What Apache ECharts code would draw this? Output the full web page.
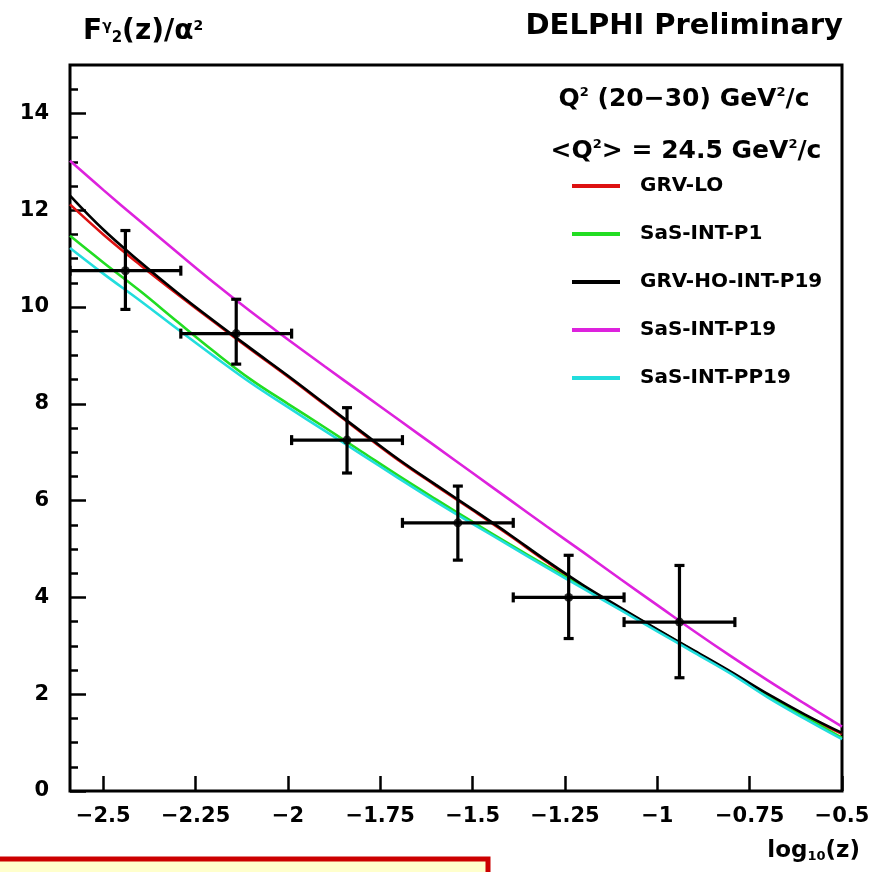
<!DOCTYPE html>
<html>
<head>
<meta charset="utf-8">
<script src="https://cdn.jsdelivr.net/npm/echarts@6/dist/echarts.min.js"></script>
<style>
html,body{margin:0;padding:0;background:#fff;}
#c{width:888px;height:872px;}
</style>
</head>
<body>
<div id="c"></div>
<script>
// ---- data ----
const xTickLabels = [-2.5, -2.25, -2, -1.75, -1.5, -1.25, -1, -0.75, -0.5];
const yTickLabels = [0, 2, 4, 6, 8, 10, 12, 14];
const curveX = [-2.59, -2.5, -2.4, -2.3, -2.2, -2.1, -2.0, -1.9, -1.8, -1.7, -1.6, -1.5, -1.4, -1.3, -1.2, -1.1, -1.0, -0.9, -0.8, -0.7, -0.6, -0.5];
const grvLO   = [12.12, 11.50, 10.87, 10.27, 9.69, 9.12, 8.56, 7.98, 7.40, 6.83, 6.31, 5.80, 5.28, 4.74, 4.23, 3.77, 3.32, 2.88, 2.44, 1.98, 1.56, 1.18];
const sasP1   = [11.47, 10.92, 10.33, 9.70, 9.08, 8.50, 8.00, 7.51, 7.01, 6.51, 6.03, 5.56, 5.10, 4.65, 4.21, 3.77, 3.33, 2.89, 2.44, 1.97, 1.53, 1.10];
const grvHO   = [12.30, 11.60, 10.93, 10.30, 9.71, 9.14, 8.58, 8.00, 7.42, 6.85, 6.33, 5.82, 5.30, 4.76, 4.25, 3.79, 3.34, 2.90, 2.46, 2.00, 1.58, 1.20];
const sasP19  = [13.02, 12.42, 11.77, 11.13, 10.50, 9.90, 9.33, 8.77, 8.22, 7.67, 7.12, 6.57, 6.02, 5.47, 4.93, 4.38, 3.84, 3.30, 2.78, 2.28, 1.80, 1.33];
const sasPP19 = [11.22, 10.69, 10.13, 9.55, 8.98, 8.43, 7.93, 7.44, 6.95, 6.46, 5.98, 5.52, 5.07, 4.62, 4.18, 3.74, 3.30, 2.86, 2.42, 1.93, 1.49, 1.07];
const pointX  = [-2.44, -2.14, -1.84, -1.54, -1.24, -0.94];
const pointY  = [10.75, 9.45, 7.25, 5.54, 4.00, 3.49];
const xErrLo  = [-2.59, -2.29, -1.99, -1.69, -1.39, -1.09];
const xErrHi  = [-2.29, -1.99, -1.69, -1.39, -1.09, -0.79];
const yErrLo  = [9.95, 8.82, 6.57, 4.77, 3.15, 2.34];
const yErrHi  = [11.58, 10.16, 7.92, 6.30, 4.87, 4.66];
const seriesNames = ['GRV-LO', 'SaS-INT-P1', 'GRV-HO-INT-P19', 'SaS-INT-P19', 'SaS-INT-PP19'];

// ---- build ----
const FONT = '"DejaVu Sans", Verdana, sans-serif';
const zip = ys => curveX.map((x, i) => [x, ys[i]]);
const minorX = []; for (let v = -2.55; v > -0.52; v += 0.05) minorX.push(+v.toFixed(2));
const minorY = []; for (let v = 0.5; v < 15; v += 0.5) minorY.push(v);
const fmt = v => String(v).replace('-', '\u2212');

const lineSeries = (name, ys, color, z) => ({
  name, type: 'line', data: zip(ys), smooth: 0.4, showSymbol: false, color,
  lineStyle: { width: 2.6, color }, z, xAxisIndex: 0, yAxisIndex: 0, animation: false
});

const errData = pointX.map((x, i) => [x, pointY[i], xErrLo[i], xErrHi[i], yErrLo[i], yErrHi[i]]);

const chart = echarts.init(document.getElementById('c'), null, { renderer: 'canvas' });
chart.setOption({
  animation: false,
  backgroundColor: '#fff',
  grid: { left: 70, top: 65, right: 46, bottom: 81, show: true, borderColor: '#000', borderWidth: 3, backgroundColor: 'transparent' },
  xAxis: [
    { type: 'value', min: -2.59, max: -0.5, position: 'bottom',
      axisLine: { show: false }, splitLine: { show: false },
      axisTick: { show: true, inside: true, length: 15, customValues: xTickLabels, lineStyle: { color: '#000', width: 2.5 } },
      axisLabel: { customValues: xTickLabels, formatter: fmt, margin: 15, color: '#000', fontSize: 21, fontWeight: 'bold', fontFamily: FONT } },
    { type: 'value', min: -2.59, max: -0.5, position: 'bottom',
      axisLine: { show: false }, splitLine: { show: false }, axisLabel: { show: false },
      axisTick: { show: true, inside: true, length: 8, customValues: minorX, lineStyle: { color: '#000', width: 2.5 } } }
  ],
  yAxis: [
    { type: 'value', min: 0, max: 15, position: 'left',
      axisLine: { show: false }, splitLine: { show: false },
      axisTick: { show: true, inside: true, length: 16, customValues: yTickLabels, lineStyle: { color: '#000', width: 2.5 } },
      axisLabel: { customValues: yTickLabels, formatter: fmt, margin: 21, color: '#000', fontSize: 21, fontWeight: 'bold', fontFamily: FONT } },
    { type: 'value', min: 0, max: 15, position: 'left',
      axisLine: { show: false }, splitLine: { show: false }, axisLabel: { show: false },
      axisTick: { show: true, inside: true, length: 8, customValues: minorY, lineStyle: { color: '#000', width: 2.5 } } }
  ],
  legend: {
    data: seriesNames, orient: 'vertical', left: 572, top: 176, padding: 0,
    icon: 'rect', itemWidth: 48, itemHeight: 4, itemGap: 28,
    textStyle: { fontSize: 20, fontWeight: 'bold', fontFamily: FONT, color: '#000', padding: [0, 0, 0, 15] },
    selectedMode: false
  },
  series: [
    lineSeries(seriesNames[0], grvLO, '#dd1111', 2),
    lineSeries(seriesNames[1], sasP1, '#22dd22', 3),
    lineSeries(seriesNames[2], grvHO, '#000000', 4),
    lineSeries(seriesNames[3], sasP19, '#dd22dd', 5),
    lineSeries(seriesNames[4], sasPP19, '#22dddd', 6),
    { type: 'custom', data: errData, z: 8, clip: true, xAxisIndex: 0, yAxisIndex: 0,
      renderItem: function (params, api) {
        const x = api.value(0), y = api.value(1);
        const l = api.coord([api.value(2), y]), r = api.coord([api.value(3), y]);
        const t = api.coord([x, api.value(5)]), b = api.coord([x, api.value(4)]);
        const cap = 5;
        const st = { stroke: '#000', lineWidth: 3.2 };
        const ln = (x1, y1, x2, y2) => ({ type: 'line', shape: { x1, y1, x2, y2 }, style: st });
        return { type: 'group', children: [
          ln(l[0], l[1], r[0], r[1]),
          ln(t[0], t[1], b[0], b[1]),
          ln(l[0], l[1] - cap, l[0], l[1] + cap),
          ln(r[0], r[1] - cap, r[0], r[1] + cap),
          ln(t[0] - cap, t[1], t[0] + cap, t[1]),
          ln(b[0] - cap, b[1], b[0] + cap, b[1])
        ] };
      } },
    { type: 'scatter', data: pointX.map((x, i) => [x, pointY[i]]), symbol: 'circle', symbolSize: 9,
      itemStyle: { color: '#000' }, z: 9, xAxisIndex: 0, yAxisIndex: 0 }
  ],
  graphic: [
    { type: 'text', left: 83, top: 18, style: {
        text: 'F{sup|γ}{sub|2}(z)/α{sup|2}', fill: '#000',
        font: 'bold 28px ' + FONT,
        rich: { sup: { fontSize: 14, fontWeight: 'bold', fontFamily: FONT, padding: [0, 0, 12, 0] },
                sub: { fontSize: 15, fontWeight: 'bold', fontFamily: FONT, padding: [12, 0, 0, 0] } } } },
    { type: 'text', right: 45, top: 12, style: { text: 'DELPHI Preliminary', fill: '#000', font: 'bold 29px ' + FONT } },
    { type: 'text', x: 684, y: 99, style: {
        text: 'Q{sup|2} (20\u221230) GeV{sup|2}/c', fill: '#000', font: 'bold 25px ' + FONT,
        textAlign: 'center', textVerticalAlign: 'middle',
        rich: { sup: { fontSize: 13, fontWeight: 'bold', fontFamily: FONT, padding: [0, 0, 12, 0] } } } },
    { type: 'text', x: 686, y: 151, style: {
        text: '<Q{sup|2}> = 24.5 GeV{sup|2}/c', fill: '#000', font: 'bold 25px ' + FONT,
        textAlign: 'center', textVerticalAlign: 'middle',
        rich: { sup: { fontSize: 13, fontWeight: 'bold', fontFamily: FONT, padding: [0, 0, 12, 0] } } } },
    { type: 'text', right: 28, top: 840, style: {
        text: 'log{sub|10}(z)', fill: '#000', font: 'bold 23px ' + FONT,
        rich: { sub: { fontSize: 13, fontWeight: 'bold', fontFamily: FONT, padding: [10, 0, 0, 0] } } } },
    { type: 'rect', shape: { x: -5, y: 859, width: 493, height: 30 },
      style: { fill: '#ffffcc', stroke: '#cc0000', lineWidth: 5 }, z: 100 }
  ]
});
</script>
</body>
</html>
